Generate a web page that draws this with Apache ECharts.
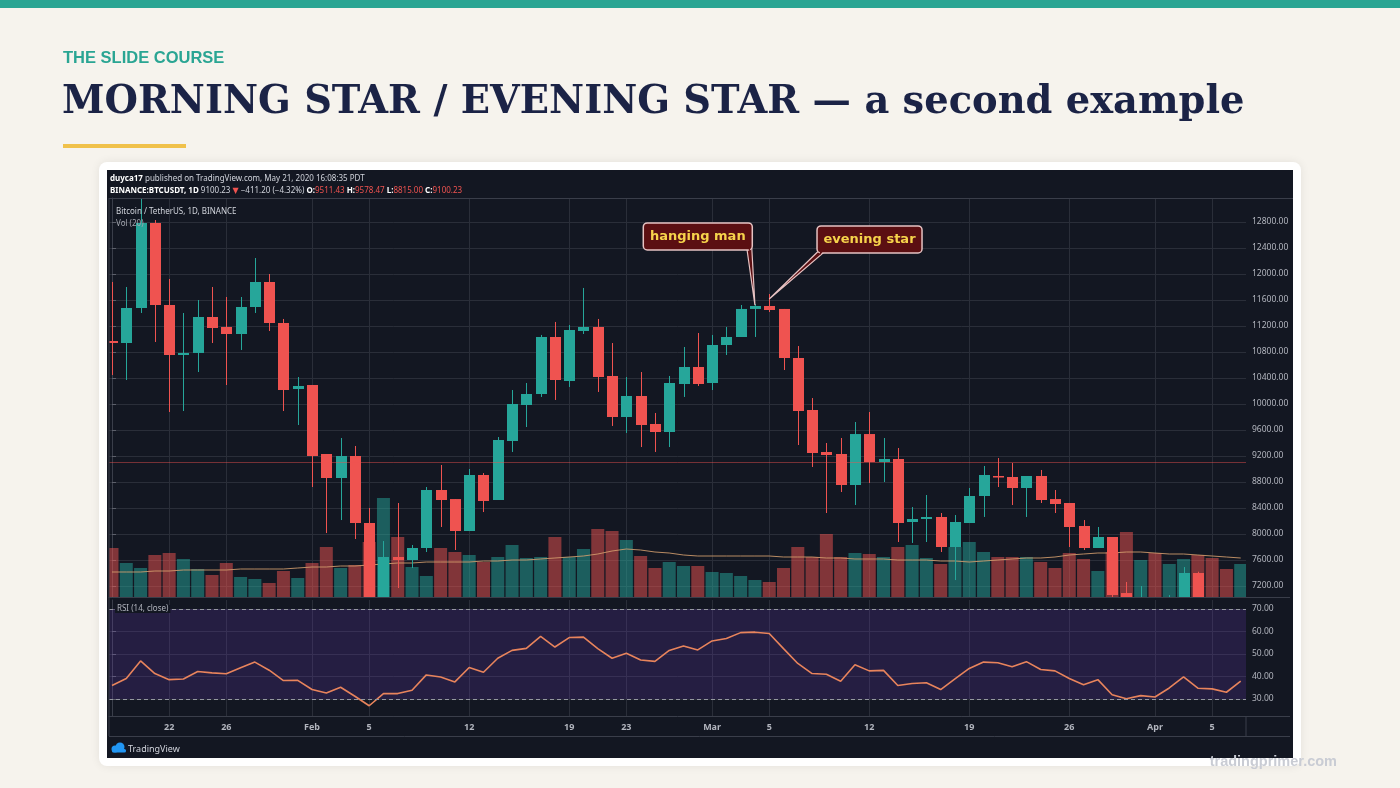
<!DOCTYPE html>
<html><head><meta charset="utf-8">
<script src="https://cdn.jsdelivr.net/npm/echarts/dist/echarts.min.js"></script>
<style>html,body{margin:0;padding:0;background:#f6f3ed;}#c{width:1400px;height:788px;}</style>
</head><body><div id="c"></div>
<script>
// ---------- DATA ----------
const dates = [
'2018-01-18','2018-01-19','2018-01-20','2018-01-21','2018-01-22','2018-01-23','2018-01-24','2018-01-25','2018-01-26','2018-01-27',
'2018-01-28','2018-01-29','2018-01-30','2018-01-31','2018-02-01','2018-02-02','2018-02-03','2018-02-04','2018-02-05','2018-02-06',
'2018-02-07','2018-02-08','2018-02-09','2018-02-10','2018-02-11','2018-02-12','2018-02-13','2018-02-14','2018-02-15','2018-02-16',
'2018-02-17','2018-02-18','2018-02-19','2018-02-20','2018-02-21','2018-02-22','2018-02-23','2018-02-24','2018-02-25','2018-02-26',
'2018-02-27','2018-02-28','2018-03-01','2018-03-02','2018-03-03','2018-03-04','2018-03-05','2018-03-06','2018-03-07','2018-03-08',
'2018-03-09','2018-03-10','2018-03-11','2018-03-12','2018-03-13','2018-03-14','2018-03-15','2018-03-16','2018-03-17','2018-03-18',
'2018-03-19','2018-03-20','2018-03-21','2018-03-22','2018-03-23','2018-03-24','2018-03-25','2018-03-26','2018-03-27','2018-03-28',
'2018-03-29','2018-03-30','2018-03-31','2018-04-01','2018-04-02','2018-04-03','2018-04-04','2018-04-05','2018-04-06','2018-04-07'];

const open = [
10969,10938,11477,12785,11523,10754,10785,11338,11185,11077,
11492,11877,11246,10231,10292,9231,8862,9200,8169,6900,
7646,7600,7785,8677,8538,8046,8908,8523,9431,9985,
10154,11031,10354,11123,11185,10431,9800,10123,9692,9569,
10308,10569,10323,10908,11031,11462,11508,11462,10708,9908,
9262,9231,8754,9538,9108,9154,8185,8231,8262,7800,
8169,8585,8892,8877,8708,8892,8538,8477,8123,7785,
7954,7092,6950,7000,6850,6990,7400,6960,6800,6780];
const close = [
10938,11477,12785,11523,10754,10785,11338,11169,11077,11492,
11877,11246,10215,10277,9200,8862,9200,8169,6900,7646,
7600,7785,8677,8523,8046,8908,8508,9446,10000,10154,
11031,10369,11138,11185,10415,9800,10123,9677,9569,10323,
10569,10308,10908,11031,11462,11508,11446,10708,9892,9246,
9215,8754,9538,9108,9154,8169,8231,8262,7800,8185,
8585,8908,8877,8708,8892,8523,8462,8108,7785,7954,
7062,6980,7000,6850,6990,7400,6960,6800,6780,6900];
const high = [
11877,11800,13250,12830,11923,11400,11600,11800,11646,11646,
12246,12000,11308,10415,10292,9231,9477,9354,8400,7892,
8477,7831,8723,9062,8538,9000,8938,9492,10215,10323,
11062,11262,11215,11785,11308,10938,10415,10492,9862,10431,
10877,11092,11062,11185,11523,11538,11692,11462,10892,10092,
9400,9477,9723,9877,9477,9323,8415,8600,8323,8292,
8708,9046,9169,9092,8892,8985,8677,8477,8215,8108,
7954,7262,7200,7020,7060,7492,7420,7010,6950,7000];
const low = [
10446,10369,11400,10954,9877,9892,10492,10938,10292,10831,
11400,11123,9892,9677,8723,8015,8215,7923,6600,6000,
7169,7477,7723,8108,7754,8046,8338,8523,9262,9646,
10108,10062,10262,11077,10185,9662,9554,9338,9262,9338,
10108,10277,10215,10754,11031,11031,11415,10523,9369,9031,
8323,8646,8446,8785,8800,7877,7862,7877,7723,7292,
8169,8262,8723,8446,8262,8477,8323,7800,7754,7785,
6900,6800,6850,6700,6800,6900,6750,6600,6600,6700];
const volume = [
49,34,29,42,44,38,28,22,34,20,
18,14,26,19,34,50,29,32,55,99,
60,30,21,49,45,42,35,40,52,39,
40,60,40,48,68,66,57,41,29,35,
31,31,25,24,21,17,15,29,50,40,
63,40,44,43,40,50,52,39,33,50,
55,45,40,40,40,35,29,44,38,26,
45,65,37,44,33,38,42,39,28,33];
const volMA = [
25,25,25,26,26,27,27,27,27,28,
28,28,28,29,30,30,31,31,32,33,
34,34,35,35,35,35,36,36,37,37,
38,39,40,41,43,46,48,47,45,44,
42,41,41,41,41,41,41,40,40,40,
39,39,38,38,38,37,37,37,36,36,
35,36,37,38,39,39,40,42,43,44,
44,45,45,44,43,43,42,41,40,39];
const rsi = [
36.0,39.1,46.9,41.3,38.6,38.9,42.2,41.6,41.2,43.9,
46.4,42.8,38.2,38.3,34.2,32.7,35.2,31.2,27.0,32.4,
32.4,33.9,40.7,39.8,37.6,44.0,41.9,48.1,51.6,52.5,
57.8,53.1,57.3,57.5,52.4,48.1,50.3,47.3,46.7,51.6,
53.6,51.8,55.8,56.9,59.5,59.7,59.1,52.4,45.8,41.3,
41.0,37.9,45.2,42.5,42.7,36.0,36.9,37.2,34.2,38.9,
43.6,46.4,46.1,44.3,46.6,43.1,42.5,39.1,36.3,38.6,
31.9,30.1,31.5,30.9,34.9,39.8,34.8,34.5,33.0,37.9];

const lastPrice = 9100.23;
const priceTicks = [7200,7600,8000,8400,8800,9200,9600,10000,10400,10800,11200,11600,12000,12400,12800];
const rsiTicks = [30,40,50,60,70];
const rsiBand = [30,70];
const xTickDates = ['2018-01-22','2018-01-26','2018-02-01','2018-02-05','2018-02-12','2018-02-19','2018-02-23',
  '2018-03-01','2018-03-05','2018-03-12','2018-03-19','2018-03-26','2018-04-01','2018-04-05'];
const xTickText = ['22','26','Feb','5','12','19','23','Mar','5','12','19','26','Apr','5'];

// annotations: [tip day index, tip price, box centre day index, box centre price]
const annoText = ['hanging man','evening star'];
const annoData = [[45, 11520, 41.0, 12577], [46, 11615, 53.02, 12531]];

// ---------- STYLE ----------
const UP = '#26a69a', DOWN = '#ef5350';
const GRIDC = '#2a2e39', BORDER = '#3a3e4a', TXT = '#b2b5be';
const annoBox = [[109, 27], [105, 27]];
const annoTail = [[49, 54], [-51, -44]];
const FONT = 'Noto Sans, DejaVu Sans, sans-serif';
const GL = 109, GW = 1137;
const X_MIN = -0.21, X_MAX = 79.37;

const xTickIdx = xTickDates.map(d => dates.indexOf(d));
const candleData = dates.map((d, i) => [i, open[i], close[i], low[i], high[i]]);
const volData = dates.map((d, i) => [i, volume[i]]);
const volMAData = dates.map((d, i) => [i, volMA[i]]);
const rsiData = dates.map((d, i) => [i, rsi[i]]);
const isUp = i => close[i] >= open[i];

function xAxisBase(gridIndex, showLabel) {
  return {type: 'value', gridIndex, min: X_MIN, max: X_MAX,
    axisLine: {show: true, onZero: false, lineStyle: {color: BORDER}},
    axisTick: {show: false, customValues: xTickIdx},
    axisLabel: {show: showLabel, customValues: xTickIdx, color: TXT, fontSize: 9, fontWeight: 'bold', fontFamily: FONT, margin: 7,
      formatter: v => xTickText[xTickIdx.indexOf(v)]},
    splitLine: {show: true, lineStyle: {color: GRIDC, width: 1}}};
}

const chart = echarts.init(document.getElementById('c'));

const option = {
  animation: false,
  backgroundColor: '#f6f3ed',
  grid: [
    {left: GL, width: GW, top: 198, height: 399},
    {left: GL, width: GW, top: 600, height: 116}
  ],
  xAxis: [xAxisBase(0, false), xAxisBase(1, true)],
  yAxis: [
    {type: 'value', gridIndex: 0, position: 'right', min: 7031, max: 13169,
     axisLine: {show: true, lineStyle: {color: BORDER}},
     axisTick: {show: true, length: 4, customValues: priceTicks, lineStyle: {color: '#5d606b'}},
     axisLabel: {customValues: priceTicks, formatter: v => v.toFixed(2), color: TXT, fontSize: 8.5, fontFamily: FONT, margin: 6},
     splitLine: {show: true, lineStyle: {color: GRIDC, width: 1}}},
    {type: 'value', gridIndex: 0, min: 0, max: 399, show: false, splitLine: {show: false}},
    {type: 'value', gridIndex: 1, position: 'right', min: 22.44, max: 74,
     axisLine: {show: true, lineStyle: {color: BORDER}},
     axisTick: {show: true, length: 4, customValues: rsiTicks, lineStyle: {color: '#5d606b'}},
     axisLabel: {customValues: rsiTicks, formatter: v => v.toFixed(2), color: TXT, fontSize: 8.5, fontFamily: FONT, margin: 6},
     splitLine: {show: true, lineStyle: {color: GRIDC, width: 1}}}
  ],
  series: [
    {type: 'custom', name: 'Volume', xAxisIndex: 0, yAxisIndex: 1, data: volData, z: 1, clip: true, silent: true,
     encode: {x: 0, y: 1},
     renderItem: function (params, api) {
       const i = api.value(0);
       const p0 = api.coord([i, 0]), p1 = api.coord([i, api.value(1)]);
       const w = api.size([1, 0])[0] * 0.91;
       return {type: 'rect', shape: {x: p0[0] - w / 2, y: p1[1], width: w, height: p0[1] - p1[1]},
         style: {fill: isUp(params.dataIndex) ? 'rgba(38,166,154,0.5)' : 'rgba(239,83,80,0.5)'}};
     }},
    {type: 'line', name: 'Vol MA', xAxisIndex: 0, yAxisIndex: 1, data: volMAData, symbol: 'none', z: 2, silent: true,
     lineStyle: {color: 'rgba(214,160,110,0.85)', width: 1}},
    {type: 'line', name: 'last price', xAxisIndex: 0, yAxisIndex: 0, data: [], z: 2, silent: true,
     markLine: {silent: true, symbol: ['none','none'], label: {show: false}, animation: false,
       lineStyle: {color: 'rgba(239,83,80,0.45)', width: 1, type: 'solid'},
       data: [{yAxis: lastPrice}]}},
    {type: 'custom', name: 'BTCUSDT', xAxisIndex: 0, yAxisIndex: 0, data: candleData, z: 3, clip: true, silent: true,
     encode: {x: 0, y: [1, 2, 3, 4]},
     renderItem: function (params, api) {
       const i = api.value(0), o = api.value(1), c = api.value(2), l = api.value(3), h = api.value(4);
       const po = api.coord([i, o]), pc = api.coord([i, c]), pl = api.coord([i, l]), ph = api.coord([i, h]);
       const w = api.size([1, 0])[0] * 0.77;
       const col = c >= o ? UP : DOWN;
       const top = Math.min(po[1], pc[1]), bot = Math.max(po[1], pc[1]);
       const cx = Math.round(po[0]) + 0.5;
       return {type: 'group', children: [
         {type: 'line', shape: {x1: cx, y1: ph[1], x2: cx, y2: pl[1]}, style: {stroke: col, lineWidth: 1}},
         {type: 'rect', shape: {x: cx - w / 2, y: top, width: w, height: Math.max(bot - top, 1.5)}, style: {fill: col}}
       ]};
     }},
    {type: 'custom', name: 'annotations', xAxisIndex: 0, yAxisIndex: 0, data: annoData, z: 10, clip: false, silent: true,
     encode: {x: 0, y: 1},
     renderItem: function (params, api) {
       const i = params.dataIndex;
       const tip = api.coord([api.value(0), api.value(1)]);
       const c = api.coord([api.value(2), api.value(3)]);
       const cx = c[0], cy = c[1];
       const w = annoBox[i][0], h = annoBox[i][1];
       const by = cy + h / 2;
       const t0 = cx + annoTail[i][0], t1 = cx + annoTail[i][1];
       return {type: 'group', children: [
         {type: 'polygon', shape: {points: [[t0, by - 2], [tip[0], tip[1]], [t1, by - 2]]},
          style: {fill: '#5b0f12', stroke: '#e6c3c3', lineWidth: 1.2}},
         {type: 'rect', shape: {x: cx - w / 2, y: cy - h / 2, width: w, height: h, r: 4},
          style: {fill: '#5b0f12', stroke: '#e6c3c3', lineWidth: 1.5}},
         {type: 'polygon', shape: {points: [[t0 + 1.3, by - 3], [t1 - 1.3, by - 3], [(t0 + t1) / 2 + (tip[0] - (t0 + t1) / 2) * 0.04, by + 2]]},
          style: {fill: '#5b0f12'}},
         {type: 'text', style: {x: cx, y: cy, text: annoText[i], fill: '#f6d34b', font: 'bold 13px "DejaVu Sans"',
          align: 'center', verticalAlign: 'middle', textAlign: 'center', textVerticalAlign: 'middle'}}
       ]};
     }},
    {type: 'line', name: 'RSI', xAxisIndex: 1, yAxisIndex: 2, data: rsiData, symbol: 'none', z: 3, silent: true,
     lineStyle: {color: '#e8845c', width: 1.6},
     markArea: {silent: true, itemStyle: {color: 'rgba(103,58,183,0.22)'},
       data: [[{yAxis: rsiBand[0]}, {yAxis: rsiBand[1]}]]},
     markLine: {silent: true, symbol: ['none','none'], label: {show: false}, animation: false,
       lineStyle: {color: '#9598a1', width: 1, type: [4, 3]},
       data: rsiBand.map(v => ({yAxis: v}))}}
  ],
  graphic: [
    {type: 'rect', z: -20, silent: true, shape: {x: 0, y: 0, width: 1400, height: 8}, style: {fill: '#2aa593'}},
    {type: 'text', z: 50, silent: true, style: {x: 63, y: 58, text: 'THE SLIDE COURSE', fill: '#2aa593',
      font: 'bold 16.5px "Liberation Sans", Arial, sans-serif', textVerticalAlign: 'middle', verticalAlign: 'middle'}},
    {type: 'text', z: 50, silent: true, style: {x: 62, y: 103, text: 'MORNING STAR / EVENING STAR — a second example', fill: '#1b2346',
      font: 'bold 38.4px "DejaVu Serif", serif', textVerticalAlign: 'middle', verticalAlign: 'middle'}},
    {type: 'rect', z: -20, silent: true, shape: {x: 63, y: 144, width: 123, height: 4}, style: {fill: '#f0c14b'}},
    {type: 'rect', z: -20, silent: true, shape: {x: 99, y: 162, width: 1202, height: 604, r: 8},
      style: {fill: '#ffffff', shadowBlur: 10, shadowColor: 'rgba(0,0,0,0.08)'}},
    {type: 'rect', z: -19, silent: true, shape: {x: 107, y: 170, width: 1186, height: 588}, style: {fill: '#131722'}},
    // pane borders
    {type: 'line', z: 40, silent: true, shape: {x1: 109, y1: 198, x2: 109, y2: 736}, style: {stroke: BORDER, lineWidth: 1}},
    {type: 'line', z: 40, silent: true, shape: {x1: 109, y1: 198.5, x2: 1293, y2: 198.5}, style: {stroke: BORDER, lineWidth: 1}},
    {type: 'line', z: 40, silent: true, shape: {x1: 1246, y1: 597.5, x2: 1290, y2: 597.5}, style: {stroke: BORDER, lineWidth: 1}},
    {type: 'line', z: 40, silent: true, shape: {x1: 1246, y1: 716.5, x2: 1290, y2: 716.5}, style: {stroke: BORDER, lineWidth: 1}},
    {type: 'line', z: 40, silent: true, shape: {x1: 109, y1: 736.5, x2: 1290, y2: 736.5}, style: {stroke: BORDER, lineWidth: 1}},
    {type: 'line', z: 40, silent: true, shape: {x1: 1246, y1: 716, x2: 1246, y2: 736}, style: {stroke: BORDER, lineWidth: 1}},
    // screenshot texts
    {type: 'text', z: 50, silent: true, style: {x: 110, y: 179, text: '{b|duyca17} published on TradingView.com, May 21, 2020 16:08:35 PDT',
      fill: '#d1d4dc', font: '8px ' + FONT, textVerticalAlign: 'middle', verticalAlign: 'middle',
      rich: {b: {fontWeight: 'bold', fill: '#ffffff', fontSize: 8, fontFamily: FONT}}}},
    {type: 'text', z: 50, silent: true, style: {x: 110, y: 191,
      text: '{b|BINANCE:BTCUSDT, 1D} 9100.23 {r|▼} −411.20 (−4.32%) {b|O:}{r|9511.43} {b|H:}{r|9578.47} {b|L:}{r|8815.00} {b|C:}{r|9100.23}',
      fill: '#d1d4dc', font: '8px ' + FONT, textVerticalAlign: 'middle', verticalAlign: 'middle',
      rich: {b: {fontWeight: 'bold', fill: '#ffffff', fontSize: 8, fontFamily: FONT},
             r: {fill: '#ef5350', fontSize: 8, fontFamily: FONT}}}},
    {type: 'text', z: 50, silent: true, style: {x: 116, y: 212, text: 'Bitcoin / TetherUS, 1D, BINANCE', fill: '#d1d4dc',
      font: '8px ' + FONT, textVerticalAlign: 'middle', verticalAlign: 'middle'}},
    {type: 'text', z: 50, silent: true, style: {x: 116, y: 224, text: 'Vol (20)', fill: '#a3a6af',
      font: '8px ' + FONT, textVerticalAlign: 'middle', verticalAlign: 'middle'}},
    {type: 'text', z: 50, silent: true, style: {x: 115, y: 609, text: 'RSI (14, close)', fill: '#b2b5be',
      font: '8px ' + FONT, textVerticalAlign: 'middle', verticalAlign: 'middle', backgroundColor: '#131722', padding: [0, 2]}},
    // TradingView logo
    {type: 'circle', z: 50, silent: true, shape: {cx: 115, cy: 749, r: 3.5}, style: {fill: '#2196f3'}},
    {type: 'circle', z: 50, silent: true, shape: {cx: 120, cy: 747, r: 4.5}, style: {fill: '#2196f3'}},
    {type: 'rect', z: 50, silent: true, shape: {x: 112, y: 749, width: 14, height: 3.5, r: 1.5}, style: {fill: '#2196f3'}},
    {type: 'text', z: 50, silent: true, style: {x: 128, y: 749, text: 'TradingView', fill: '#d1d4dc',
      font: '9px ' + FONT, textVerticalAlign: 'middle', verticalAlign: 'middle'}},
    {type: 'text', z: 50, silent: true, style: {x: 1337, y: 762, text: 'tradingprimer.com', fill: '#c9ccd4',
      font: 'bold 14.5px "Liberation Sans", Arial, sans-serif', textAlign: 'right', align: 'right',
      textVerticalAlign: 'middle', verticalAlign: 'middle'}}
  ]
};
chart.setOption(option);
</script></body></html>
